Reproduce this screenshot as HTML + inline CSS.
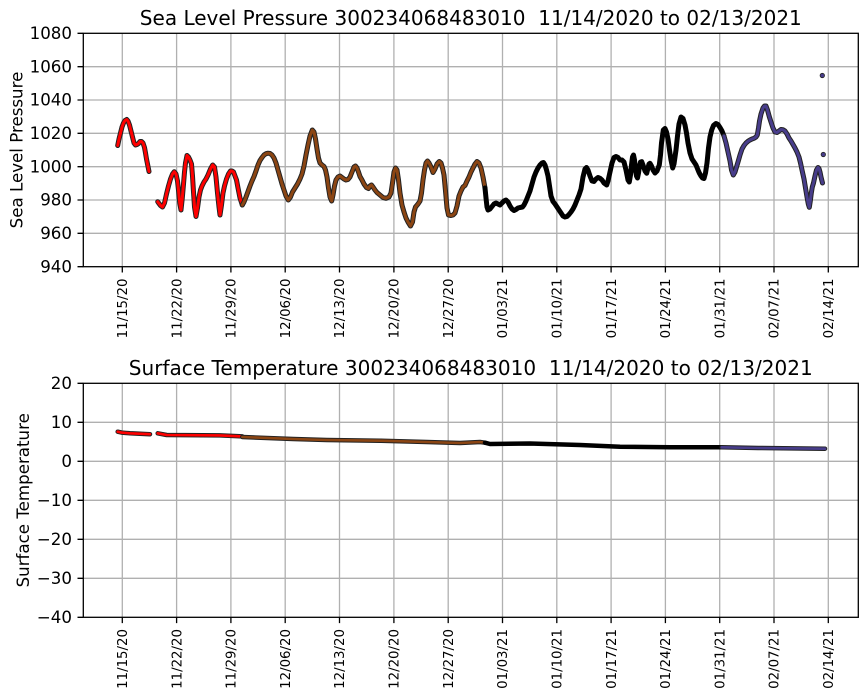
<!DOCTYPE html>
<html><head><meta charset="utf-8"><style>
html,body{margin:0;padding:0;background:#fff;}
svg{display:block;}
text{font-family:"DejaVu Sans","Liberation Sans",sans-serif;fill:#000;}
</style></head><body>
<svg width="867" height="700" viewBox="0 0 867 700" xmlns="http://www.w3.org/2000/svg">
<rect width="867" height="700" fill="#fff"/>

<!-- ===== TOP AXES ===== -->
<g stroke="#b0b0b0" stroke-width="1.3" fill="none">
<path d="M122.3 33.3V266.7M176.6 33.3V266.7M230.9 33.3V266.7M285.2 33.3V266.7M339.5 33.3V266.7M393.9 33.3V266.7M448.2 33.3V266.7M502.5 33.3V266.7M556.8 33.3V266.7M611.1 33.3V266.7M665.4 33.3V266.7M719.7 33.3V266.7M774 33.3V266.7M828.3 33.3V266.7"/>
<path d="M83.3 66.7H858.3M83.3 100H858.3M83.3 133.3H858.3M83.3 166.7H858.3M83.3 200H858.3M83.3 233.3H858.3"/>
</g>

<g fill="none" stroke-linejoin="round" stroke-linecap="round">
<!-- red seg1 -->
<polyline stroke="#222" stroke-width="5" points="117.7,145.5 119,139 120.5,133 122,127 123.5,123 125,120.5 126.7,119.5 128,121 129.5,125 131,131 132.5,137 134,143 135.5,145 137,144.5 138.5,143.5 140,141.5 141.5,141.5 143,143 144.5,147.5 145.5,153 146.5,159 147.5,164 148.5,169 149,171.5"/>
<polyline stroke="#ff0000" stroke-width="3" points="117.7,145.5 119,139 120.5,133 122,127 123.5,123 125,120.5 126.7,119.5 128,121 129.5,125 131,131 132.5,137 134,143 135.5,145 137,144.5 138.5,143.5 140,141.5 141.5,141.5 143,143 144.5,147.5 145.5,153 146.5,159 147.5,164 148.5,169 149,171.5"/>
<!-- red seg2 -->
<polyline stroke="#222" stroke-width="5" points="157.7,201.7 159,203.5 160.5,205.5 162.5,207 164.5,203 166.5,194 168.5,186 170.5,179 172.5,174 174.3,171.7 176,174 177.5,181 178.7,192 179.7,203 181,210 182.3,198 183.5,184 184.5,172 185.5,163 187,155.5 188.5,157 190,160 191.5,164 192.5,176 193.5,192 194.5,207 196,216.5 197.5,208 199,197 200.5,190 202,186 204,182 206,179 208,175 210.5,169 212.7,165 214.5,167 216,177 217.5,193 219,207 220,215 221.5,205 223,193 224.5,186 226.5,179 228.5,174 230.5,171 232,171 233.5,172 235,176 236.5,180 238,188 240,198 242.3,205"/>
<polyline stroke="#ff0000" stroke-width="3" points="157.7,201.7 159,203.5 160.5,205.5 162.5,207 164.5,203 166.5,194 168.5,186 170.5,179 172.5,174 174.3,171.7 176,174 177.5,181 178.7,192 179.7,203 181,210 182.3,198 183.5,184 184.5,172 185.5,163 187,155.5 188.5,157 190,160 191.5,164 192.5,176 193.5,192 194.5,207 196,216.5 197.5,208 199,197 200.5,190 202,186 204,182 206,179 208,175 210.5,169 212.7,165 214.5,167 216,177 217.5,193 219,207 220,215 221.5,205 223,193 224.5,186 226.5,179 228.5,174 230.5,171 232,171 233.5,172 235,176 236.5,180 238,188 240,198 242.3,205"/>
<!-- brown -->
<polyline stroke="#222" stroke-width="5" points="242.3,205 244,202 246,197 248,191.5 250,186 252,181 254,176.5 256,171 258,165 260,160.5 262,157.5 264,155 266,153.7 268,153.2 270,153.5 272,155 274,158 276,163 278,170 280,177 282,184 284,190 286,196 288.3,200 290.5,197 292.5,192 295,188 297.5,184 300,179 302,174 304,166 306,155 308,145 310,136 312.3,130 314,132 315.5,139 317,149 318.5,158 320,163 322,165 324,166.5 325.5,170 327,177 328.5,188 330,197 331.7,201 333,195 334.5,186 336,180 338,177 340,176 342,177.5 344,179 346,180 348,179.5 350,177 352,172 354,167 355.5,166 357,168 358.5,172 360,176.5 362,180 364,184 366.5,187.5 368.5,188.5 370,186 371.5,185 373,187 375,190 377,192.5 380,195 383,197.5 386,198.3 389,197 391,193 392.5,183 394,172 395.5,168 397,170 398.5,180 400,193 402,205 404,212 406,218 408,222 410.5,226 412.5,222 414,212 415.5,207 418,204 420,201 421.5,193 423,180 424.5,170 426,163 427.5,161 429,163 431,167 433,172.5 435,169 437,164 439.3,161.5 441,163 442.5,168 444,175 445.5,191 447,208 448.5,215 451,215.5 453,215 455,213 457,206 459,196 461,191 463,187 465,185.5 467,181 469,177 471,172 473,168 475,164 477,161.5 479,163 481,168 483,177 485,188"/>
<polyline stroke="#8b4513" stroke-width="3" points="242.3,205 244,202 246,197 248,191.5 250,186 252,181 254,176.5 256,171 258,165 260,160.5 262,157.5 264,155 266,153.7 268,153.2 270,153.5 272,155 274,158 276,163 278,170 280,177 282,184 284,190 286,196 288.3,200 290.5,197 292.5,192 295,188 297.5,184 300,179 302,174 304,166 306,155 308,145 310,136 312.3,130 314,132 315.5,139 317,149 318.5,158 320,163 322,165 324,166.5 325.5,170 327,177 328.5,188 330,197 331.7,201 333,195 334.5,186 336,180 338,177 340,176 342,177.5 344,179 346,180 348,179.5 350,177 352,172 354,167 355.5,166 357,168 358.5,172 360,176.5 362,180 364,184 366.5,187.5 368.5,188.5 370,186 371.5,185 373,187 375,190 377,192.5 380,195 383,197.5 386,198.3 389,197 391,193 392.5,183 394,172 395.5,168 397,170 398.5,180 400,193 402,205 404,212 406,218 408,222 410.5,226 412.5,222 414,212 415.5,207 418,204 420,201 421.5,193 423,180 424.5,170 426,163 427.5,161 429,163 431,167 433,172.5 435,169 437,164 439.3,161.5 441,163 442.5,168 444,175 445.5,191 447,208 448.5,215 451,215.5 453,215 455,213 457,206 459,196 461,191 463,187 465,185.5 467,181 469,177 471,172 473,168 475,164 477,161.5 479,163 481,168 483,177 485,188"/>
<!-- black -->
<polyline stroke="#000" stroke-width="5" points="485,188 486,198 487,207 488,210 490,209 492,206.5 494,204 496,203 498,204 500,205 502,203 504,201 506,200 508,202 510,206 512,209 514,210.5 516,209.5 518,208 520,207.5 522.5,207 524,205 526,201 528,196 530,191 532,184 534,177 536,172 538,168 540,165 542,163 543.5,162.5 545,165 546.5,170 548,176 549.5,186 551,196 553,201.5 555,204 557,207 559,210 561,213 563,216 565,217 567,216.5 569,214.5 571,212 573,209 575,205 577,200 579,195 581,189 583,177 585,169 586.5,167.5 588,170 590,176 592,181 594,181.5 596,179 598,177.5 600,178.3 602,180 604,183 606.7,185 608,181 610,172 612,163 614,157.5 616,156.5 618,157.5 620,160 622,160 624,162 626,170 628,180 629.3,182 630.5,175 631.5,165 632.5,157 633.5,155 634.5,160 635.5,170 636.5,176 637.5,178 638.5,173 639.5,166 640.5,162 641.7,161.7 643,165 645,171 646.7,173.3 648,168 649,164 650,163.3 651.5,166 653,170 655,173 657,171 658.5,167 659.3,165 660.5,155 661.5,143 663.3,130 665,128.5 666.5,132 668,139 669.5,150 671,160 672.7,168 674,164 675,157 676,150 677.5,136 679,124 681,117 683,118.5 685,125 686.5,133 688,143 690,153 692,159 694,162 696,165 698,170 699.3,173 701,176 702.5,178 704,178.5 705.5,173 707,163 708.5,148 710,137 711.7,130 713.5,125.5 716,123.5 718,124.5 720,127.5 722,131 724,136"/>
<!-- purple -->
<polyline stroke="#222" stroke-width="5" points="724,136 726,143 728,152 730,161 731.5,170 733.3,175 735,172 736.5,167 738.3,161 740,155 742,149 744,145.5 746,143 748.3,141 750,140 752,139 754,138.3 756,137 757.3,135 758.5,128 759.5,121 761,114 763,108 764.5,106 766,106 767.5,110 769.3,116.7 771,122 773,128 775,132 777,132.5 779,131 781,129.5 783,129.7 785,131 787,134 789,138 791,141 793.3,145 795,148 797,152 799,157 800.5,163 802,170 804,179 805.5,188 807,197 808.3,204 809.3,207.3 810.3,201 811.3,193 812.3,187 813.5,183 815,176 816.5,170 818,167.5 819,168.5 820,172 821,177 822.5,183"/>
<polyline stroke="#483d8b" stroke-width="3" points="724,136 726,143 728,152 730,161 731.5,170 733.3,175 735,172 736.5,167 738.3,161 740,155 742,149 744,145.5 746,143 748.3,141 750,140 752,139 754,138.3 756,137 757.3,135 758.5,128 759.5,121 761,114 763,108 764.5,106 766,106 767.5,110 769.3,116.7 771,122 773,128 775,132 777,132.5 779,131 781,129.5 783,129.7 785,131 787,134 789,138 791,141 793.3,145 795,148 797,152 799,157 800.5,163 802,170 804,179 805.5,188 807,197 808.3,204 809.3,207.3 810.3,201 811.3,193 812.3,187 813.5,183 815,176 816.5,170 818,167.5 819,168.5 820,172 821,177 822.5,183"/>
</g>
<circle cx="822.3" cy="75.5" r="2.2" fill="#483d8b" stroke="#222" stroke-width="0.8"/>
<circle cx="823.3" cy="154.5" r="2.2" fill="#483d8b" stroke="#222" stroke-width="0.8"/>

<!-- spines & ticks top -->
<rect x="83.3" y="33.3" width="775" height="233.4" fill="none" stroke="#000" stroke-width="1.3"/>
<g stroke="#000" stroke-width="1.3">
<path d="M77.5 33.3H83.3M77.5 66.7H83.3M77.5 100H83.3M77.5 133.3H83.3M77.5 166.7H83.3M77.5 200H83.3M77.5 233.3H83.3M77.5 266.7H83.3"/>
<path d="M122.3 266.7v5.8M176.6 266.7v5.8M230.9 266.7v5.8M285.2 266.7v5.8M339.5 266.7v5.8M393.9 266.7v5.8M448.2 266.7v5.8M502.5 266.7v5.8M556.8 266.7v5.8M611.1 266.7v5.8M665.4 266.7v5.8M719.7 266.7v5.8M774 266.7v5.8M828.3 266.7v5.8"/>
</g>
<g font-size="16.67" text-anchor="end">
<text x="72" y="39">1080</text>
<text x="72" y="72.4">1060</text>
<text x="72" y="105.7">1040</text>
<text x="72" y="139">1020</text>
<text x="72" y="172.4">1000</text>
<text x="72" y="205.7">980</text>
<text x="72" y="239">960</text>
<text x="72" y="272.4">940</text>
</g>
<g font-size="13.33" text-anchor="end">
<text transform="translate(127,278.5) rotate(-90)">11/15/20</text>
<text transform="translate(181.3,278.5) rotate(-90)">11/22/20</text>
<text transform="translate(235.6,278.5) rotate(-90)">11/29/20</text>
<text transform="translate(289.9,278.5) rotate(-90)">12/06/20</text>
<text transform="translate(344.2,278.5) rotate(-90)">12/13/20</text>
<text transform="translate(398.6,278.5) rotate(-90)">12/20/20</text>
<text transform="translate(452.9,278.5) rotate(-90)">12/27/20</text>
<text transform="translate(507.2,278.5) rotate(-90)">01/03/21</text>
<text transform="translate(561.5,278.5) rotate(-90)">01/10/21</text>
<text transform="translate(615.8,278.5) rotate(-90)">01/17/21</text>
<text transform="translate(670.1,278.5) rotate(-90)">01/24/21</text>
<text transform="translate(724.4,278.5) rotate(-90)">01/31/21</text>
<text transform="translate(778.7,278.5) rotate(-90)">02/07/21</text>
<text transform="translate(833,278.5) rotate(-90)">02/14/21</text>
</g>
<text x="470.8" y="25" font-size="20" text-anchor="middle" textLength="662" lengthAdjust="spacingAndGlyphs">Sea Level Pressure 300234068483010&#160;&#160;11/14/2020 to 02/13/2021</text>
<text transform="translate(22.5,150) rotate(-90)" font-size="16.67" text-anchor="middle">Sea Level Pressure</text>

<!-- ===== BOTTOM AXES ===== -->
<g stroke="#b0b0b0" stroke-width="1.3" fill="none">
<path d="M122.3 383.3V617.3M176.6 383.3V617.3M230.9 383.3V617.3M285.2 383.3V617.3M339.5 383.3V617.3M393.9 383.3V617.3M448.2 383.3V617.3M502.5 383.3V617.3M556.8 383.3V617.3M611.1 383.3V617.3M665.4 383.3V617.3M719.7 383.3V617.3M774 383.3V617.3M828.3 383.3V617.3"/>
<path d="M83.3 422.3H858.3M83.3 461.3H858.3M83.3 500.3H858.3M83.3 539.3H858.3M83.3 578.3H858.3"/>
</g>
<g fill="none" stroke-linejoin="round" stroke-linecap="round">
<polyline stroke="#222" stroke-width="4.5" points="117.7,431.7 121.7,432.6 130,433.3 150,434.2"/>
<polyline stroke="#ff0000" stroke-width="2.6" points="117.7,431.7 121.7,432.6 130,433.3 150,434.2"/>
<polyline stroke="#222" stroke-width="4.5" points="157.7,433.3 166.7,435 220,435.4 242.3,436.4"/>
<polyline stroke="#ff0000" stroke-width="2.6" points="157.7,433.3 166.7,435 220,435.4 242.3,436.4"/>
<polyline stroke="#222" stroke-width="4.5" points="242.3,437 293.3,439 326.7,440 380,440.7 426.7,442 460,443 480,442 485,442.7"/>
<polyline stroke="#8b4513" stroke-width="2.6" points="242.3,437 293.3,439 326.7,440 380,440.7 426.7,442 460,443 480,442 485,442.7"/>
<polyline stroke="#000" stroke-width="4.5" points="485,442.7 490,444 530,443.5 580,445 620,446.7 670,447.3 721.7,447.3"/>
<polyline stroke="#222" stroke-width="4.5" points="721.7,447.3 758.3,448 825,448.7"/>
<polyline stroke="#483d8b" stroke-width="2.6" points="721.7,447.3 758.3,448 825,448.7"/>
</g>
<rect x="83.3" y="383.3" width="775" height="234" fill="none" stroke="#000" stroke-width="1.3"/>
<g stroke="#000" stroke-width="1.3">
<path d="M77.5 383.3H83.3M77.5 422.3H83.3M77.5 461.3H83.3M77.5 500.3H83.3M77.5 539.3H83.3M77.5 578.3H83.3M77.5 617.3H83.3"/>
<path d="M122.3 617.3v5.8M176.6 617.3v5.8M230.9 617.3v5.8M285.2 617.3v5.8M339.5 617.3v5.8M393.9 617.3v5.8M448.2 617.3v5.8M502.5 617.3v5.8M556.8 617.3v5.8M611.1 617.3v5.8M665.4 617.3v5.8M719.7 617.3v5.8M774 617.3v5.8M828.3 617.3v5.8"/>
</g>
<g font-size="16.67" text-anchor="end">
<text x="72" y="389">20</text>
<text x="72" y="428">10</text>
<text x="72" y="467">0</text>
<text x="72" y="506">−10</text>
<text x="72" y="545">−20</text>
<text x="72" y="584">−30</text>
<text x="72" y="623">−40</text>
</g>
<g font-size="13.33" text-anchor="end">
<text transform="translate(127,629) rotate(-90)">11/15/20</text>
<text transform="translate(181.3,629) rotate(-90)">11/22/20</text>
<text transform="translate(235.6,629) rotate(-90)">11/29/20</text>
<text transform="translate(289.9,629) rotate(-90)">12/06/20</text>
<text transform="translate(344.2,629) rotate(-90)">12/13/20</text>
<text transform="translate(398.6,629) rotate(-90)">12/20/20</text>
<text transform="translate(452.9,629) rotate(-90)">12/27/20</text>
<text transform="translate(507.2,629) rotate(-90)">01/03/21</text>
<text transform="translate(561.5,629) rotate(-90)">01/10/21</text>
<text transform="translate(615.8,629) rotate(-90)">01/17/21</text>
<text transform="translate(670.1,629) rotate(-90)">01/24/21</text>
<text transform="translate(724.4,629) rotate(-90)">01/31/21</text>
<text transform="translate(778.7,629) rotate(-90)">02/07/21</text>
<text transform="translate(833,629) rotate(-90)">02/14/21</text>
</g>
<text x="470.8" y="375" font-size="20" text-anchor="middle" textLength="684" lengthAdjust="spacingAndGlyphs">Surface Temperature 300234068483010&#160;&#160;11/14/2020 to 02/13/2021</text>
<text transform="translate(29,500.3) rotate(-90)" font-size="16.67" text-anchor="middle">Surface Temperature</text>
</svg>
</body></html>
